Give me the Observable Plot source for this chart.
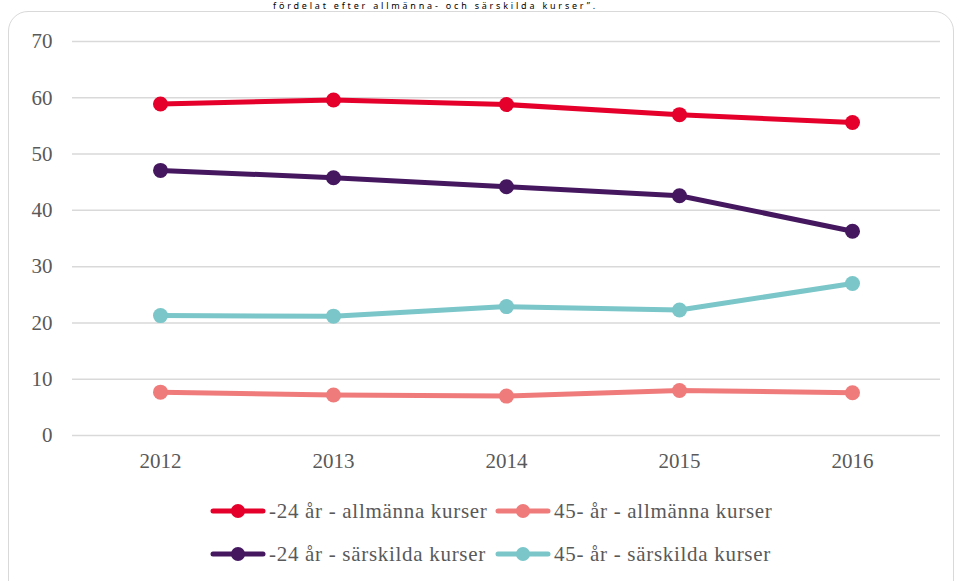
<!DOCTYPE html>
<html>
<head>
<meta charset="utf-8">
<script src="https://cdn.jsdelivr.net/npm/d3@7"></script>
<script src="https://cdn.jsdelivr.net/npm/@observablehq/plot@0.6"></script>
<style>
  html, body { margin: 0; padding: 0; background: #fff; }
  body { width: 956px; height: 581px; position: relative; overflow: hidden; }
  #title { position: absolute; left: 203px; top: 1px; width: 465px; text-align: center;
    font-family: "Noto Sans", "Open Sans", sans-serif; font-size: 9px; line-height: 10px; color: #000; white-space: nowrap; letter-spacing: 2.8px; }
  #frame { position: absolute; left: 8px; top: 11px; width: 946px; height: 600px;
    border: 1.5px solid #d9d9d9; border-radius: 20px; box-sizing: border-box; }
  #chart { position: absolute; left: 0; top: 0; }
  #legend { position: absolute; left: 210px; top: 498px; display: grid;
    grid-template-columns: 285px 300px; row-gap: 17px;
    font-family: "Liberation Serif", "Times New Roman", "DejaVu Serif", serif; font-size: 21px; letter-spacing: 0.7px; color: #595959; }
  .item { display: flex; align-items: center; height: 26px; white-space: nowrap; }
  .item svg { margin-right: 3px; }
</style>
</head>
<body>
<div id="title">fördelat efter allmänna- och särskilda kurser”.</div>
<div id="frame"></div>
<div id="chart"></div>
<div id="legend"></div>
<script>
const years = [2012, 2013, 2014, 2015, 2016];
const seriesNames = [
  "-24 år - allmänna kurser",
  "45- år - allmänna kurser",
  "-24 år - särskilda kurser",
  "45- år - särskilda kurser"
];
const young_general = [58.9, 59.6, 58.8, 57.0, 55.6];
const old_general = [7.7, 7.2, 7.0, 8.0, 7.6];
const young_special = [47.1, 45.8, 44.2, 42.6, 36.3];
const old_special = [21.3, 21.2, 22.9, 22.3, 27.0];
const colors = ["#e4002b", "#f07b7b", "#44175f", "#7ac6c9"];
const yTicks = [0, 10, 20, 30, 40, 50, 60, 70];

const seriesValues = [young_general, old_general, young_special, old_special];
const data = [];
seriesNames.forEach((name, i) => {
  years.forEach((yr, j) => data.push({series: name, year: String(yr), value: seriesValues[i][j]}));
});

const plot = Plot.plot({
  width: 956,
  height: 480,
  marginLeft: 72,
  marginRight: 16,
  marginTop: 41,
  marginBottom: 45,
  style: { fontFamily: "'Liberation Serif', 'Times New Roman', 'DejaVu Serif', serif", fontSize: "21px", color: "#595959", background: "transparent" },
  x: { type: "point", domain: years.map(String), padding: 0.5, label: null },
  y: { domain: [0, 70], label: null },
  color: { domain: seriesNames, range: colors },
  marks: [
    Plot.ruleY(yTicks, { stroke: "#d9d9d9", strokeWidth: 1.5 }),
    Plot.axisY({ ticks: yTicks, tickSize: 0, tickPadding: 20, label: null, fill: "#595959" }),
    Plot.axisX({ tickSize: 0, tickPadding: 18, label: null, fill: "#595959" }),
    Plot.line(data, { x: "year", y: "value", z: "series", stroke: "series", strokeWidth: 5, strokeLinecap: "round" }),
    Plot.dot(data, { x: "year", y: "value", fill: "series", r: 7.5 })
  ]
});
document.getElementById("chart").appendChild(plot);

const legend = document.getElementById("legend");
seriesNames.forEach((name, i) => {
  const div = document.createElement("div");
  div.className = "item";
  div.innerHTML = `<svg width="56" height="16"><line x1="3" y1="8" x2="53" y2="8" stroke="${colors[i]}" stroke-width="5" stroke-linecap="round"/><circle cx="28" cy="8" r="7" fill="${colors[i]}"/></svg><span>${name}</span>`;
  legend.appendChild(div);
});
</script>
</body>
</html>
